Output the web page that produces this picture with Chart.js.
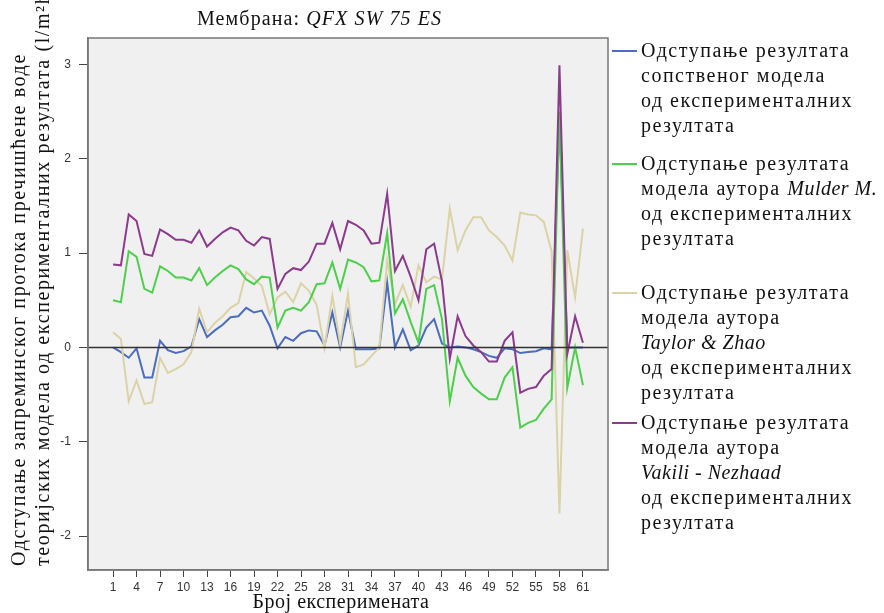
<!DOCTYPE html>
<html>
<head>
<meta charset="utf-8">
<script src="https://cdn.jsdelivr.net/npm/chart.js@4.4.0/dist/chart.umd.min.js"></script>
<style>
  body { margin: 0; background: #fff; }
  #wrap { position: relative; width: 884px; height: 613px; overflow: hidden; font-family: "Liberation Serif", "Times New Roman", serif; color: #111; }
  #wrap canvas { position: absolute; left: 0; top: 0; }
  .title { position: absolute; top: 7px; left: 197px; font-size: 20px; white-space: nowrap; letter-spacing: 1.1px; }
  .ytitle { position: absolute; left: 6px; top: 566px; width: 640px; transform-origin: 0 0; transform: rotate(-90deg); font-size: 20px; line-height: 24px; white-space: nowrap; letter-spacing: 1.6px; }
  .xtitle { position: absolute; top: 590px; left: 0; width: 682px; text-align: center; font-size: 20px; white-space: nowrap; letter-spacing: 0.5px; }
  .leg { position: absolute; left: 641px; font-size: 20px; line-height: 25px; white-space: nowrap; letter-spacing: 1.5px; }
  .leg i { font-style: italic; letter-spacing: 0.5px; }
  .swatch { position: absolute; left: -29px; top: 12px; width: 25px; height: 2px; }
</style>
</head>
<body>
<div id="wrap">
  <canvas id="chart" width="884" height="613"></canvas>
  <div class="title">Мембрана: <i>QFX SW 75 ES</i></div>
  <div class="ytitle">Одступање запреминског протока пречишћене воде<br>теоријских модела од експерименталних резултата (l/m²h)</div>
  <div class="xtitle">Број експеримената</div>
  <div id="legend"></div>
</div>
<script>
// experiment numbers and axis ticks
const experiments = Array.from({ length: 61 }, (_, i) => i + 1);
const xTicks = [1, 4, 7, 10, 13, 16, 19, 22, 25, 28, 31, 34, 37, 40, 43, 46, 49, 52, 55, 58, 61];
const yTicks = [-2, -1, 0, 1, 2, 3];

// own model
const ownModel = [0.0, -0.05, -0.11, -0.01, -0.32, -0.32, 0.07, -0.03, -0.06, -0.04,
  0.01, 0.30, 0.11, 0.18, 0.24, 0.32, 0.33, 0.42, 0.37, 0.39,
  0.23, -0.01, 0.11, 0.07, 0.15, 0.18, 0.17, 0.02, 0.37, 0.0,
  0.39, -0.02, -0.02, -0.02, -0.01, 0.69, 0.0, 0.19, -0.03, 0.02,
  0.21, 0.30, 0.04, 0.0, 0.01, 0.0, -0.02, -0.05, -0.09, -0.11,
  -0.01, -0.02, -0.06, -0.05, -0.04, -0.01, -0.02, 2.45, 0.0, 0.0, 0.0];
// Mulder M.
const mulder = [0.50, 0.48, 1.02, 0.96, 0.62, 0.58, 0.86, 0.81, 0.74, 0.74,
  0.71, 0.84, 0.66, 0.74, 0.81, 0.87, 0.83, 0.72, 0.67, 0.75,
  0.74, 0.21, 0.39, 0.42, 0.39, 0.48, 0.67, 0.68, 0.90, 0.62,
  0.93, 0.90, 0.85, 0.70, 0.71, 1.21, 0.36, 0.51, 0.27, 0.05,
  0.62, 0.66, 0.30, -0.57, -0.11, -0.30, -0.42, -0.49, -0.55, -0.55,
  -0.32, -0.21, -0.85, -0.80, -0.77, -0.65, -0.55, 2.50, -0.43, 0.0, -0.40];
// Taylor & Zhao
const taylorZhao = [0.16, 0.09, -0.57, -0.35, -0.60, -0.58, -0.11, -0.27, -0.23, -0.18,
  -0.05, 0.41, 0.16, 0.26, 0.33, 0.42, 0.47, 0.80, 0.73, 0.65,
  0.35, 0.53, 0.59, 0.48, 0.68, 0.60, 0.45, -0.01, 0.55, 0.04,
  0.57, -0.21, -0.18, -0.09, 0.0, 0.92, 0.46, 0.66, 0.43, 0.87,
  0.69, 0.75, 0.72, 1.47, 1.03, 1.24, 1.38, 1.38, 1.24, 1.17,
  1.08, 0.92, 1.43, 1.41, 1.40, 1.33, 1.02, -1.76, 1.03, 0.53, 1.26];
// Vakili - Nezhaad
const vakili = [0.88, 0.87, 1.41, 1.34, 0.99, 0.97, 1.25, 1.20, 1.14, 1.14,
  1.11, 1.24, 1.07, 1.15, 1.22, 1.27, 1.24, 1.13, 1.08, 1.17,
  1.15, 0.62, 0.78, 0.84, 0.82, 0.91, 1.10, 1.10, 1.32, 1.04,
  1.34, 1.30, 1.24, 1.10, 1.11, 1.63, 0.81, 0.97, 0.75, 0.50,
  1.04, 1.10, 0.70, -0.12, 0.33, 0.12, 0.02, -0.05, -0.15, -0.15,
  0.07, 0.16, -0.48, -0.44, -0.42, -0.30, -0.23, 2.99, -0.07, 0.33, 0.05];

const seriesColors = ['#4a6cc2', '#4cd04c', '#dcd2a8', '#8b3a8d'];
const legendTexts = [
  'Одступање резултата<br>сопственог модела<br>од експерименталних<br>резултата',
  'Одступање резултата<br>модела аутора <i>Mulder M.</i><br>од експерименталних<br>резултата',
  'Одступање резултата<br>модела аутора<br><i>Taylor &amp; Zhao</i><br>од експерименталних<br>резултата',
  'Одступање резултата<br>модела аутора<br><i>Vakili - Nezhaad</i><br>од експерименталних<br>резултата'
];
const legendTops = [38, 151, 280, 410];

const legend = document.getElementById('legend');
legendTexts.forEach((t, i) => {
  legend.innerHTML += `<div class="leg" style="top:${legendTops[i]}px"><span class="swatch" style="background:${seriesColors[i]}"></span>${t}</div>`;
});

const toPoints = vals => vals.map((v, i) => ({ x: experiments[i], y: v }));

const plotFrame = {
  id: 'plotFrame',
  beforeDraw(chart) {
    const a = chart.chartArea, c = chart.ctx;
    c.save();
    c.fillStyle = '#f0f0f0';
    c.fillRect(a.left, a.top, a.right - a.left, a.bottom - a.top);
    c.restore();
  },
  afterDatasetsDraw(chart) {
    const a = chart.chartArea, c = chart.ctx;
    const y0 = chart.scales.y.getPixelForValue(0);
    c.save();
    c.strokeStyle = '#333';
    c.lineWidth = 1.5;
    c.beginPath();
    c.moveTo(a.left, y0);
    c.lineTo(a.right, y0);
    c.stroke();
    c.strokeStyle = '#777';
    c.lineWidth = 1.5;
    c.strokeRect(a.left, a.top, a.right - a.left, a.bottom - a.top);
    c.restore();
  }
};

new Chart(document.getElementById('chart'), {
  type: 'line',
  data: {
    datasets: [
      { data: toPoints(ownModel), borderColor: seriesColors[0], order: 3 },
      { data: toPoints(mulder), borderColor: seriesColors[1], order: 1 },
      { data: toPoints(taylorZhao), borderColor: seriesColors[2], order: 2 },
      { data: toPoints(vakili), borderColor: seriesColors[3], order: 0 }
    ]
  },
  options: {
    responsive: false,
    animation: false,
    layout: { padding: { left: 0, top: 38, right: 276, bottom: 0 } },
    elements: {
      line: { borderWidth: 2, tension: 0, fill: false },
      point: { radius: 0 }
    },
    plugins: { legend: { display: false }, tooltip: { enabled: false } },
    scales: {
      x: {
        type: 'linear',
        min: -2.2,
        max: 64.2,
        afterBuildTicks: s => { s.ticks = xTicks.map(v => ({ value: v })); },
        afterFit: s => { s.height = 43; },
        grid: { drawOnChartArea: false, color: '#444', tickLength: 7 },
        border: { color: '#777', width: 1.5 },
        ticks: { color: '#333', padding: 3, font: { family: 'Liberation Sans', size: 12 } }
      },
      y: {
        min: -2.36,
        max: 3.28,
        afterBuildTicks: s => { s.ticks = yTicks.map(v => ({ value: v })); },
        afterFit: s => { s.width = 88; },
        grid: { drawOnChartArea: false, color: '#444', tickLength: 9 },
        border: { color: '#777', width: 1.5 },
        ticks: { color: '#333', padding: 8, font: { family: 'Liberation Sans', size: 12 } }
      }
    }
  },
  plugins: [plotFrame]
});
</script>
</body>
</html>
